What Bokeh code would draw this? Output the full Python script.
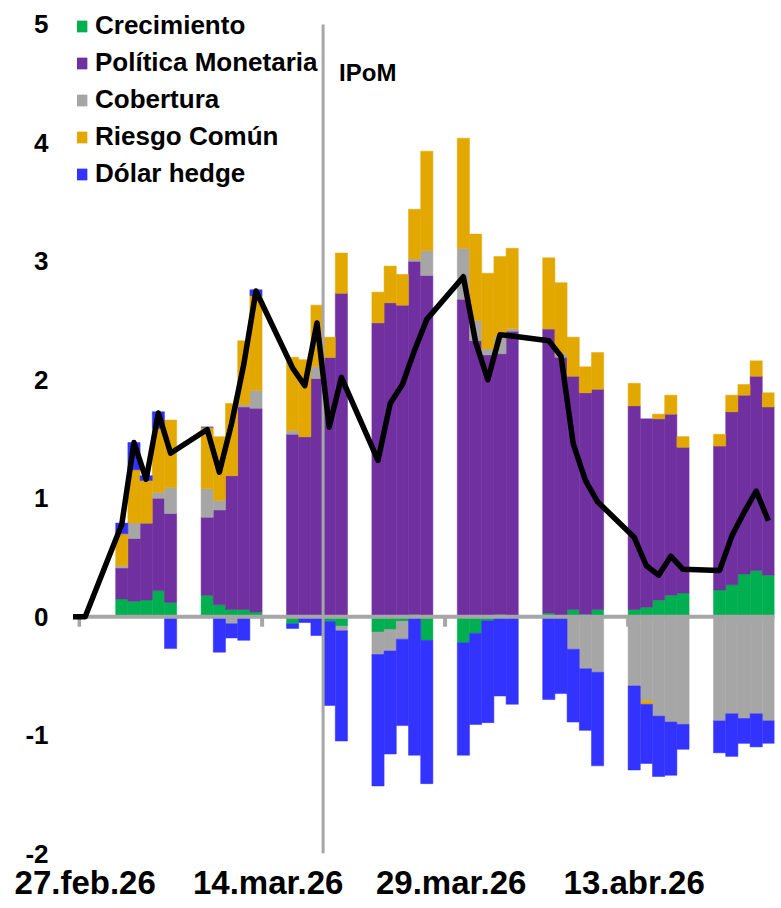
import numpy as np
import pandas as pd
from bokeh.plotting import figure
from bokeh.models import Span, Label, Legend, LegendItem, FixedTicker, Range1d, ColumnDataSource
from bokeh.embed import file_html
from bokeh.resources import INLINE

# ---------------- data ----------------
dates = [
    "2026-03-02", "2026-03-03", "2026-03-04", "2026-03-05", "2026-03-06",
    "2026-03-09", "2026-03-10", "2026-03-11", "2026-03-12", "2026-03-13",
    "2026-03-16", "2026-03-17", "2026-03-18", "2026-03-19", "2026-03-20",
    "2026-03-23", "2026-03-24", "2026-03-25", "2026-03-26", "2026-03-27",
    "2026-03-30", "2026-03-31", "2026-04-01", "2026-04-02", "2026-04-03",
    "2026-04-06", "2026-04-07", "2026-04-08", "2026-04-09", "2026-04-10",
    "2026-04-13", "2026-04-14", "2026-04-15", "2026-04-16", "2026-04-17",
    "2026-04-20", "2026-04-21", "2026-04-22", "2026-04-23", "2026-04-24",
]
crecimiento = [0.15, 0.13, 0.14, 0.22, 0.12, 0.18, 0.10, 0.06, 0.06, 0.04,
               -0.06, 0.00, 0.01, -0.04, -0.08, -0.13, -0.11, -0.04, 0.02, -0.20,
               -0.22, -0.14, -0.035, 0.02, 0.00, 0.03, -0.01, 0.06, 0.02, 0.06,
               0.06, 0.08, 0.14, 0.18, 0.20, 0.225, 0.27, 0.36, 0.39, 0.35]
politica = [0.26, 0.53, 0.65, 0.78, 0.75, 0.66, 0.80, 1.13, 1.71, 1.72,
            1.54, 1.52, 2.00, 2.19, 2.73, 2.48, 2.65, 2.63, 2.98, 2.88,
            2.68, 2.33, 2.21, 2.20, 2.41, 2.40, 2.19, 1.97, 1.87, 1.86,
            1.72, 1.59, 1.53, 1.53, 1.23, 1.215, 1.46, 1.51, 1.64, 1.42]
cobertura = [0.02, 0.13, 0.00, 0.05, 0.22, 0.24, 0.08, -0.06, 0.02, 0.15,
             0.03, 0.00, 0.10, 0.00, -0.04, -0.19, -0.18, -0.15, 0.02, 0.21,
             0.43, 0.17, 0.05, 0.14, 0.02, 0.00, 0.03, -0.275, -0.44, -0.47,
             -0.585, -0.71, -0.84, -0.89, -0.91, -0.88, -0.82, -0.86, -0.82, -0.88]
riesgo = [0.27, 0.45, 0.36, 0.54, 0.57, 0.52, 0.54, 0.61, 0.54, 0.80,
          0.62, 0.65, 0.52, 0.17, 0.34, 0.26, 0.31, 0.26, 0.42, 0.84,
          0.93, 0.73, 0.64, 0.68, 0.68, 0.60, 0.60, 0.33, 0.22, 0.31,
          0.19, -0.03, 0.04, 0.16, 0.09, 0.10, 0.14, 0.09, 0.13, 0.12]
dolar = [0.09, 0.23, 0.04, 0.14, -0.27, 0.00, -0.30, -0.12, -0.20, 0.05,
         -0.04, -0.05, -0.16, -0.71, -0.93, -1.11, -0.87, -0.73, -1.17, -1.21,
         -0.95, -0.77, -0.86, -0.67, -0.74, -0.70, -0.64, -0.615, -0.52, -0.79,
         -0.71, -0.50, -0.51, -0.45, -0.21, -0.27, -0.36, -0.21, -0.28, -0.19]

line_dates = ["2026-02-26", "2026-02-27"] + dates
total = [0.0, 0.0,
         0.78, 1.47, 1.16, 1.72, 1.38, 1.58, 1.22, 1.63, 2.13, 2.75,
         2.10, 1.95, 2.48, 1.60, 2.02, 1.32, 1.80, 1.96, 2.25, 2.51,
         2.87, 2.32, 2.00, 2.38, 2.37, 2.33, 2.20, 1.46, 1.15, 0.97,
         0.67, 0.43, 0.35, 0.51, 0.40, 0.39, 0.68, 0.88, 1.06, 0.81]

series_names = ["Crecimiento", "Política Monetaria", "Cobertura", "Riesgo Común", "Dólar hedge"]
series_colors = ["#00B050", "#7030A0", "#A6A6A6", "#E3A800", "#3333FF"]

tick_dates = ["2026-02-27", "2026-03-14", "2026-03-29", "2026-04-13"]
tick_labels = ["27.feb.26", "14.mar.26", "29.mar.26", "13.abr.26"]
y_ticks = [-2, -1, 0, 1, 2, 3, 4, 5]
y_tick_labels = ["-2", "-1", "0", "1", "2", "3", "4", "5"]
ipom_date = "2026-03-19"
range_start_date = "2026-02-27"
range_end_date = "2026-04-25"

# ---------------- helpers ----------------
base = pd.Timestamp(range_start_date)


def day_num(d):
    return float((pd.Timestamp(d) - base) / pd.Timedelta(days=1))


bar_x = np.array([day_num(d) for d in dates])
line_x = np.array([day_num(d) for d in line_dates]) + 0.5

FONT = "Liberation Sans"
GREY = "#A6A6A6"
PX_PER_UNIT = 118.5
y_top = y_ticks[-1] + 16 / PX_PER_UNIT   # a little headroom above 5 for the legend

p = figure(width=781, height=908, output_backend="svg", toolbar_location=None,
           x_range=Range1d(-0.13, day_num(range_end_date)), y_range=Range1d(y_ticks[0], y_top),
           min_border_left=77, min_border_right=7, min_border_top=8, min_border_bottom=55)
p.outline_line_color = None
p.xgrid.grid_line_color = None
p.ygrid.grid_line_color = None
p.background_fill_color = "white"
p.border_fill_color = "white"

# stacked bars (positives stack up from zero, negatives stack down from zero)
pos_base = np.zeros(len(dates))
neg_base = np.zeros(len(dates))
renderers = []
for vals, name, col in zip([crecimiento, politica, cobertura, riesgo, dolar], series_names, series_colors):
    v = np.array(vals, dtype=float)
    bottom = np.where(v >= 0, pos_base, neg_base)
    top = bottom + v
    pos_base = np.where(v >= 0, top, pos_base)
    neg_base = np.where(v < 0, top, neg_base)
    src = ColumnDataSource(dict(left=bar_x, right=bar_x + 1.0, bottom=bottom, top=top))
    r = p.quad(left="left", right="right", bottom="bottom", top="top", source=src,
               fill_color=col, line_color=col, line_width=0.5)
    renderers.append(r)

# zero axis line and tick marks
p.add_layout(Span(location=0, dimension="width", line_color=GREY, line_width=4))
tick_x = [day_num(d) for d in tick_dates]
p.segment(x0=tick_x, y0=[0] * len(tick_x), x1=tick_x, y1=[-0.085] * len(tick_x),
          line_color=GREY, line_width=4)

# IPoM vertical line (from -2 to 5) and label
ipom_x = day_num(ipom_date)
p.segment(x0=[ipom_x], y0=[y_ticks[0]], x1=[ipom_x], y1=[y_ticks[-1]],
          line_color=GREY, line_width=3)
p.add_layout(Label(x=ipom_x, y=y_ticks[-1], x_offset=16, y_offset=-48, text="IPoM",
                   text_font=FONT, text_font_style="bold", text_font_size="24px",
                   text_baseline="middle", text_color="black"))

# total line
lr = p.line(line_x, total, line_color="black", line_width=5.5, line_join="round")
lr.level = "overlay"

# axes
p.yaxis.ticker = FixedTicker(ticks=y_ticks)
p.yaxis.major_label_overrides = {t: lab for t, lab in zip(y_ticks, y_tick_labels)}
p.yaxis.axis_line_color = None
p.yaxis.major_tick_line_color = None
p.yaxis.minor_tick_line_color = None
p.yaxis.major_label_standoff = 23
p.yaxis.major_label_text_font = FONT
p.yaxis.major_label_text_font_style = "bold"
p.yaxis.major_label_text_font_size = "26px"
p.yaxis.major_label_text_color = "black"

xt = [x + 0.5 for x in tick_x]
p.xaxis.ticker = FixedTicker(ticks=xt)
p.xaxis.major_label_overrides = {t: lab for t, lab in zip(xt, tick_labels)}
p.xaxis.axis_line_color = None
p.xaxis.major_tick_line_color = None
p.xaxis.minor_tick_line_color = None
p.xaxis.major_label_standoff = 4
p.xaxis.major_label_text_font = FONT
p.xaxis.major_label_text_font_style = "bold"
p.xaxis.major_label_text_font_size = "33px"
p.xaxis.major_label_text_color = "black"

legend = Legend(items=[LegendItem(label=n, renderers=[r]) for n, r in zip(series_names, renderers)],
                location=(-3, 664), orientation="vertical",
                label_text_font=FONT, label_text_font_style="bold", label_text_font_size="26px",
                label_text_color="black", glyph_width=14, glyph_height=14, label_standoff=7,
                label_height=30, spacing=6, padding=0, margin=0,
                border_line_color=None, background_fill_alpha=0)
p.add_layout(legend)

open("out.html", "w").write(file_html(p, INLINE))
